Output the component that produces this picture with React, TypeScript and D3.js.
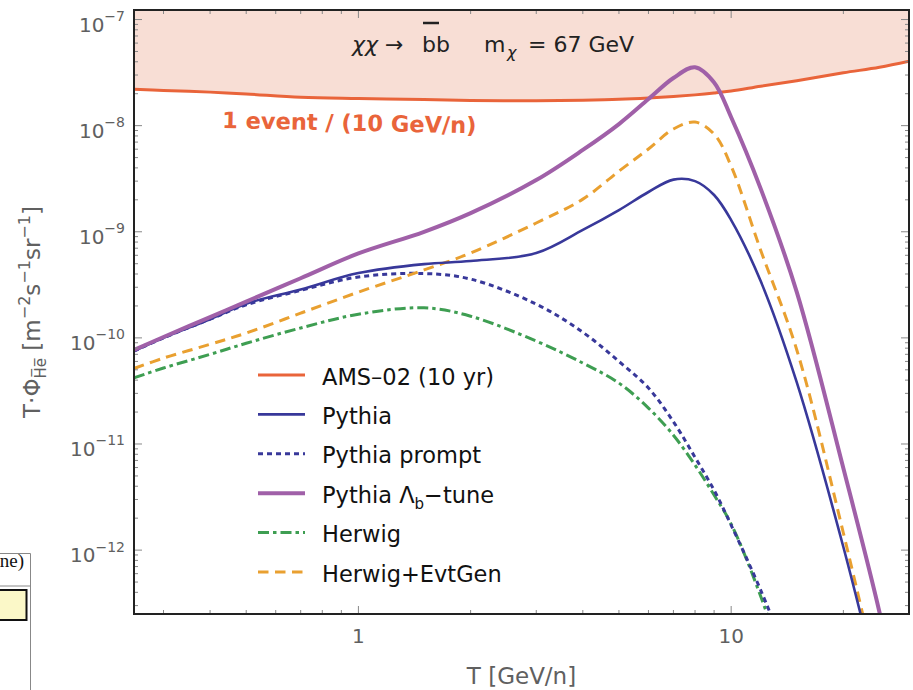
import React, { useEffect, useRef } from 'react';
import * as d3 from 'd3';

// kinetic energy per nucleon [GeV/n]
const tValues = [0.25, 0.3, 0.4, 0.5, 0.7, 1, 1.5, 2, 3, 4, 5, 6, 7, 8, 9, 10, 12, 15, 20, 25, 30];

// T * flux [m^-2 s^-1 sr^-1]
const ams = [2.2e-8, 2.15e-8, 2.07e-8, 1.99e-8, 1.85e-8, 1.8e-8, 1.76e-8, 1.73e-8, 1.72e-8, 1.74e-8, 1.77e-8, 1.82e-8, 1.88e-8, 1.95e-8, 2.03e-8, 2.12e-8, 2.35e-8, 2.65e-8, 3.15e-8, 3.55e-8, 4.05e-8];
const pythia = [7.5e-11, 1.0e-10, 1.5e-10, 2.1e-10, 2.86e-10, 4.08e-10, 4.96e-10, 5.3e-10, 6.3e-10, 1.04e-9, 1.6e-9, 2.37e-9, 3.1e-9, 3.0e-9, 2.22e-9, 1.29e-9, 3.43e-10, 3.8e-11, 1.07e-12, 4.7e-14, null];
const pythiaPrompt = [7.5e-11, 1.0e-10, 1.5e-10, 2.05e-10, 2.8e-10, 3.75e-10, 4.04e-10, 3.58e-10, 2.08e-10, 1.13e-10, 6.0e-11, 3.37e-11, 1.62e-11, 7.5e-12, 3.67e-12, 1.72e-12, 4.2e-13, 6e-14, null, null, null];
const pythiaLb = [7.7e-11, 1.02e-10, 1.57e-10, 2.2e-10, 3.65e-10, 6.25e-10, 1.0e-9, 1.5e-9, 3.07e-9, 5.9e-9, 1.035e-8, 1.78e-8, 2.81e-8, 3.55e-8, 2.55e-8, 1.2e-8, 2.55e-9, 2.7e-10, 5.9e-12, 2.6e-13, 1.3e-14];
const herwig = [4.2e-11, 5.2e-11, 7.0e-11, 8.9e-11, 1.24e-10, 1.67e-10, 1.92e-10, 1.6e-10, 9.33e-11, 5.79e-11, 3.75e-11, 2.18e-11, 1.21e-11, 6.33e-12, 3.3e-12, 1.76e-12, 3.68e-13, 3.5e-14, null, null, null];
const herwigEvt = [5.15e-11, 6.45e-11, 8.7e-11, 1.11e-10, 1.71e-10, 2.7e-10, 4.37e-10, 6.3e-10, 1.21e-9, 2.03e-9, 3.73e-9, 6.03e-9, 9.3e-9, 1.08e-8, 8.33e-9, 4.16e-9, 6.7e-10, 7.7e-11, 1.45e-12, 5.2e-14, null];

const xMajor = [1, 10];
const yMajor = [1e-7, 1e-8, 1e-9, 1e-10, 1e-11, 1e-12];
const yExp = ['−7', '−8', '−9', '−10', '−11', '−12'];

const W = 913, H = 690;
const left = 134, right = 909, top = 10, bottom = 614;

const series = [
    { name: 'ams', values: ams, color: '#E9643A', width: 3, dash: null },
    { name: 'herwig', values: herwig, color: '#3E9E52', width: 3, dash: '11,4,3.5,4' },
    { name: 'prompt', values: pythiaPrompt, color: '#38389A', width: 3, dash: '5,4' },
    { name: 'evtgen', values: herwigEvt, color: '#E9A030', width: 3, dash: '10.5,6.5' },
    { name: 'pythia', values: pythia, color: '#38389A', width: 2.6, dash: null },
    { name: 'lb', values: pythiaLb, color: '#A060A8', width: 4, dash: null },
];

const legendOrder = ['ams', 'pythia', 'prompt', 'lb', 'herwig', 'evtgen'];
const legendLabels = {
    ams: [{ t: 'AMS–02 (10 yr)' }],
    pythia: [{ t: 'Pythia' }],
    prompt: [{ t: 'Pythia prompt' }],
    lb: [{ t: 'Pythia Λ' }, { t: 'b', sub: true }, { t: '−tune' }],
    herwig: [{ t: 'Herwig' }],
    evtgen: [{ t: 'Herwig+EvtGen' }],
};

const createChart = (container: SVGSVGElement) => {
    const svg = d3.select(container);
    svg.selectAll('*').remove();
    svg.attr('width', W).attr('height', H).style('font-family', '"DejaVu Sans", sans-serif');

    const x = d3.scaleLog().domain([0.25, 30]).range([left, right]);
    const y = d3.scaleLog().domain([2.5e-13, 1.23e-7]).range([bottom, top]);

    svg.append('defs').append('clipPath').attr('id', 'plotClip')
        .append('rect').attr('x', left).attr('y', top).attr('width', right - left).attr('height', bottom - top);

    const plot = svg.append('g').attr('clip-path', 'url(#plotClip)');
    const curve = d3.curveCatmullRom.alpha(0.5);
    const pts = (vals: (number | null)[]) => tValues.map((t, i) => [t, vals[i]] as [number, number | null])
        .filter(d => d[1] != null) as [number, number][];

    const area = d3.area<[number, number]>().x(d => x(d[0])).y0(top).y1(d => y(d[1])).curve(curve);
    plot.append('path').datum(pts(ams)).attr('d', area).attr('fill', '#F8DED5');

    const line = d3.line<[number, number]>().x(d => x(d[0])).y(d => y(d[1])).curve(curve);
    series.forEach(s => {
        plot.append('path').datum(pts(s.values))
            .attr('d', line)
            .attr('fill', 'none')
            .attr('stroke', s.color)
            .attr('stroke-width', s.width)
            .attr('stroke-dasharray', s.dash)
            .attr('stroke-linecap', s.dash ? 'butt' : 'round');
    });

    // ticks (inward, all four sides)
    const ticks = svg.append('g').attr('stroke', '#888').attr('stroke-width', 1);
    y.ticks().forEach(v => {
        const major = Math.abs(Math.log10(v) - Math.round(Math.log10(v))) < 1e-6;
        const len = major ? 8 : 4;
        ticks.append('line').attr('x1', left).attr('x2', left + len).attr('y1', y(v)).attr('y2', y(v));
        ticks.append('line').attr('x1', right).attr('x2', right - len).attr('y1', y(v)).attr('y2', y(v));
    });
    x.ticks().forEach(v => {
        const major = Math.abs(Math.log10(v) - Math.round(Math.log10(v))) < 1e-6;
        const len = major ? 8 : 4;
        ticks.append('line').attr('y1', bottom).attr('y2', bottom - len).attr('x1', x(v)).attr('x2', x(v));
        ticks.append('line').attr('y1', top).attr('y2', top + len).attr('x1', x(v)).attr('x2', x(v));
    });

    svg.append('rect').attr('x', left).attr('y', top).attr('width', right - left).attr('height', bottom - top)
        .attr('fill', 'none').attr('stroke', '#222').attr('stroke-width', 2);

    // y tick labels
    yMajor.forEach((v, i) => {
        const t = svg.append('text').attr('x', 125).attr('y', y(v) + 12)
            .attr('text-anchor', 'end').attr('fill', '#606060').attr('font-size', 20);
        t.append('tspan').text('10');
        t.append('tspan').attr('dy', -10.5).attr('font-size', 14).text(yExp[i]);
    });

    // x tick labels
    xMajor.forEach(v => {
        svg.append('text').attr('x', x(v)).attr('y', 643).attr('text-anchor', 'middle')
            .attr('fill', '#606060').attr('font-size', 20).text(String(v));
    });

    // axis titles
    svg.append('text').attr('x', (left + right) / 2).attr('y', 684).attr('text-anchor', 'middle')
        .attr('fill', '#606060').attr('font-size', 23).text('T [GeV/n]');

    const yl = svg.append('text').attr('transform', `translate(40,${(top + bottom) / 2}) rotate(-90)`)
        .attr('text-anchor', 'middle').attr('fill', '#606060').attr('font-size', 23);
    yl.append('tspan').text('T·Φ');
    yl.append('tspan').attr('font-size', 15).attr('dy', 6).text('H\u0305e\u0305');
    yl.append('tspan').attr('dy', -6).text('\u00a0[m');
    yl.append('tspan').attr('font-size', 16).attr('dy', -10).text('−2');
    yl.append('tspan').attr('dy', 10).text('s');
    yl.append('tspan').attr('font-size', 16).attr('dy', -10).text('−1');
    yl.append('tspan').attr('dy', 10).text('sr');
    yl.append('tspan').attr('font-size', 16).attr('dy', -10).text('−1');
    yl.append('tspan').attr('dy', 10).text(']');

    // annotation
    const ann = svg.append('g').attr('fill', '#222').attr('font-size', 22);
    ann.append('text').attr('x', 352).attr('y', 52).attr('font-style', 'italic').text('χχ');
    ann.append('text').attr('x', 385).attr('y', 52).text('→');
    ann.append('text').attr('x', 422).attr('y', 52).text('bb');
    ann.append('line').attr('x1', 423).attr('x2', 439).attr('y1', 23).attr('y2', 23)
        .attr('stroke', '#222').attr('stroke-width', 2.5);
    ann.append('text').attr('x', 484).attr('y', 52).text('m');
    ann.append('text').attr('x', 507).attr('y', 58).attr('font-size', 16).attr('font-style', 'italic').text('χ');
    ann.append('text').attr('x', 528).attr('y', 52).text('= 67 GeV');

    svg.append('text').attr('transform', 'translate(222,128) rotate(1.2)')
        .attr('fill', '#E9643A').attr('font-weight', 'bold').attr('font-size', 22.5)
        .text('1 event / (10 GeV/n)');

    // legend
    const lg = svg.append('g');
    legendOrder.forEach((key, i) => {
        const s = series.find(d => d.name === key)!;
        const ly = 375 + i * 39.4;
        lg.append('line').attr('x1', 258).attr('x2', 305).attr('y1', ly).attr('y2', ly)
            .attr('stroke', s.color).attr('stroke-width', s.width).attr('stroke-dasharray', s.dash);
        const t = lg.append('text').attr('x', 322).attr('y', ly + 9.5).attr('font-size', 22.5).attr('fill', '#111');
        legendLabels[key].forEach((p: { t: string; sub?: boolean }, j: number, arr: any[]) => {
            const sp = t.append('tspan').text(p.t);
            if (p.sub) sp.attr('font-size', 15).attr('dy', 6);
            else if (j > 0 && arr[j - 1].sub) sp.attr('dy', -6);
        });
    });

    // fragment of a neighbouring table at the page edge
    const frag = svg.append('g');
    frag.append('path').attr('d', 'M0,553.5H30.5V690M0,586H30.5').attr('fill', 'none').attr('stroke', '#888').attr('stroke-width', 1);
    frag.append('text').attr('x', 24).attr('y', 567).attr('text-anchor', 'end')
        .attr('font-family', '"Liberation Serif", serif').attr('font-size', 19).attr('fill', '#111').text('ne)');
    frag.append('rect').attr('x', -2).attr('y', 590).attr('width', 28.5).attr('height', 30)
        .attr('fill', '#FBF8C8').attr('stroke', '#111').attr('stroke-width', 2);
};

const App = () => {
    const ref = useRef<SVGSVGElement>(null);
    useEffect(() => {
        if (ref.current) createChart(ref.current);
    }, []);
    return (
        <div style={{ position: 'absolute', left: 0, top: 0 }}>
            <svg ref={ref} style={{ display: 'block' }} />
        </div>
    );
};

export default App;
